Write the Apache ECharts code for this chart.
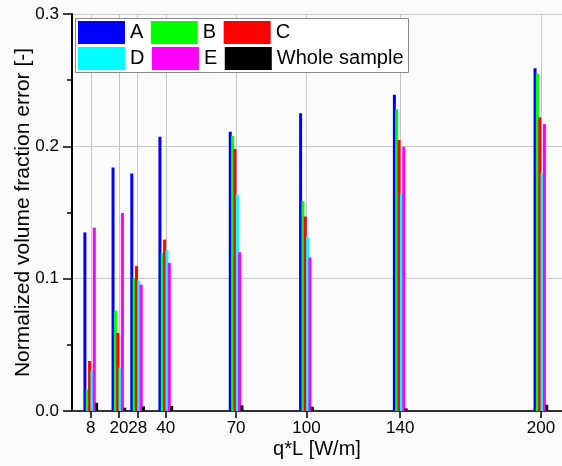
<!DOCTYPE html>
<html>
<head>
<meta charset="utf-8">
<script src="https://cdn.jsdelivr.net/npm/echarts@6/dist/echarts.min.js"></script>
<style>
  html, body { margin: 0; padding: 0; background: #fbfbfb; }
  #chart { width: 562px; height: 466px; }
</style>
</head>
<body>
<div id="chart"></div>
<script>
// Heat load per unit length q*L [W/m] for each group of bars
const qL = [8, 20, 28, 40, 70, 100, 140, 200];

// Normalized volume fraction error per sample
const seriesA = [0.135, 0.184, 0.1795, 0.2073, 0.211, 0.225, 0.239, 0.259];
const seriesB = [0.0163, 0.076, 0.1005, 0.1195, 0.208, 0.1586, 0.228, 0.255];
const seriesC = [0.0378, 0.059, 0.1095, 0.1295, 0.198, 0.147, 0.2047, 0.222];
const seriesD = [0.0308, 0.0329, 0.0985, 0.1216, 0.1637, 0.1316, 0.1647, 0.180];
const seriesE = [0.1386, 0.1496, 0.0955, 0.112, 0.120, 0.116, 0.1997, 0.2168];
const seriesWhole = [0.0062, 0.0025, 0.0035, 0.0038, 0.0043, 0.0032, 0.002, 0.0047];

const names = ['A', 'B', 'C', 'D', 'E', 'Whole sample'];
const colors = ['#0000ff', '#00ff00', '#ff0000', '#00ffff', '#ff00ff', '#000000'];
const values = [seriesA, seriesB, seriesC, seriesD, seriesE, seriesWhole];

// y-axis tick labels
const yTicks = [0.0, 0.1, 0.2, 0.3];

const FONT = "'Liberation Sans', Arial, sans-serif";
const BAR_W = 3;       // bar width in px
const BAR_STEP = 2.34; // distance between neighbouring bars of a group in px

const chart = echarts.init(document.getElementById('chart'), null, { renderer: 'canvas' });

// Thin bars placed side by side around each q*L value
function makeRenderItem(idx) {
  const shift = (idx - (names.length - 1) / 2) * BAR_STEP;
  return function (params, api) {
    const top = api.coord([api.value(0), api.value(1)]);
    const base = api.coord([api.value(0), 0]);
    return {
      type: 'rect',
      shape: {
        x: top[0] + shift - BAR_W / 2,
        y: top[1],
        width: BAR_W,
        height: base[1] - top[1]
      },
      style: { fill: colors[idx] }
    };
  };
}

const series = names.map((name, i) => ({
  name: name,
  type: 'custom',
  renderItem: makeRenderItem(i),
  itemStyle: { color: colors[i] },
  encode: { x: 0, y: 1 },
  z: 2 + i,
  data: qL.map((x, j) => [x, values[i][j]])
}));

const legendText = { fontFamily: FONT, fontSize: 20, color: '#000' };

chart.setOption({
  backgroundColor: '#fbfbfb',
  animation: false,
  grid: { left: 72, top: 14, right: 0, bottom: 55, containLabel: false, outerBoundsMode: 'none' },
  graphic: [{
    type: 'rect',
    shape: { x: 75.5, y: 18.5, width: 333, height: 54 },
    style: { fill: '#ffffff', stroke: '#888888', lineWidth: 1 },
    z: 50
  }],
  legend: [
    {
      data: names.slice(0, 3),
      left: 73, top: 16, padding: 5,
      itemWidth: 47, itemHeight: 23, itemGap: 7.5,
      icon: 'rect', selectedMode: false,
      textStyle: legendText, z: 60
    },
    {
      data: names.slice(3),
      left: 73, top: 42, padding: 5,
      itemWidth: 47, itemHeight: 23, itemGap: 7.5,
      icon: 'rect', selectedMode: false,
      textStyle: legendText, z: 60
    }
  ],
  xAxis: [
    {
      type: 'value',
      min: 0, max: 209,
      name: 'q*L [W/m]',
      nameLocation: 'middle',
      nameGap: 28,
      nameMoveOverlap: false,
      nameTextStyle: { fontFamily: FONT, fontSize: 20, color: '#000' },
      axisLine: { show: true, onZero: false, lineStyle: { color: '#555555', width: 2 } },
      axisTick: { show: true, inside: false, length: 7, customValues: qL, lineStyle: { color: '#000', width: 1.5 } },
      axisLabel: { customValues: qL, margin: 9, fontFamily: FONT, fontSize: 17, color: '#000' },
      splitLine: { show: true, lineStyle: { color: '#c8c8c8', width: 1 } }
    },
    {
      type: 'value',
      position: 'top',
      min: 0, max: 209,
      axisLine: { show: true, lineStyle: { color: '#333333', width: 2 } },
      axisTick: { show: false },
      axisLabel: { show: false },
      splitLine: { show: false }
    }
  ],
  yAxis: {
    type: 'value',
    min: 0, max: 0.3, interval: 0.1,
    name: 'Normalized volume fraction error [-]',
    nameLocation: 'middle',
    nameGap: 38,
    nameMoveOverlap: false,
    nameTextStyle: { fontFamily: FONT, fontSize: 21, color: '#000' },
    axisLine: { show: true, lineStyle: { color: '#000', width: 2 } },
    axisTick: { show: true, inside: false, length: 9, lineStyle: { color: '#000', width: 1.5 } },
    minorTick: { show: true, splitNumber: 2, length: 5, lineStyle: { color: '#000', width: 1.5 } },
    axisLabel: {
      margin: 13, fontFamily: FONT, fontSize: 17, color: '#000',
      formatter: v => yTicks.find(t => Math.abs(t - v) < 1e-9).toFixed(1)
    },
    splitLine: { show: true, lineStyle: { color: '#c8c8c8', width: 1 } }
  },
  series: series
});
</script>
</body>
</html>
